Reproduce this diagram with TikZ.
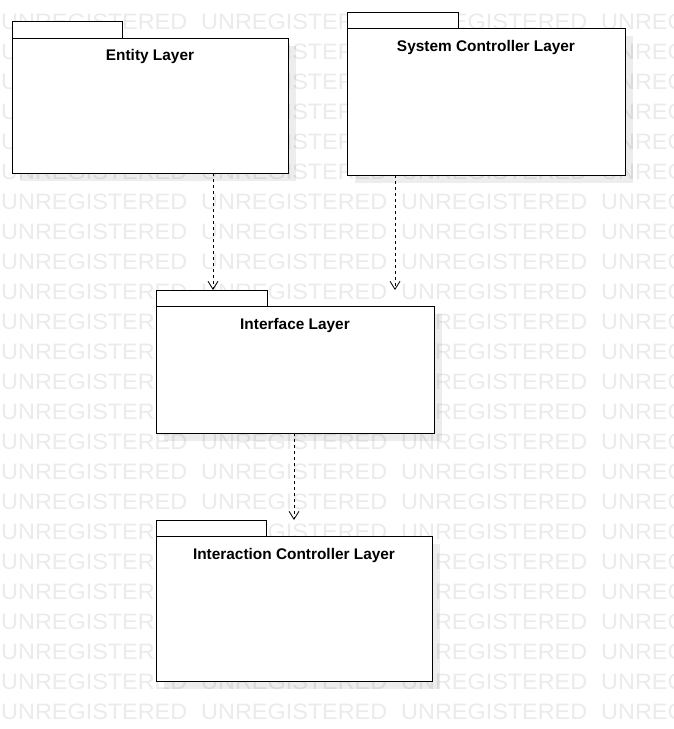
\documentclass[tikz,border=0pt]{standalone}
\usepackage{fontspec}
\setmainfont{Liberation Sans}
\usetikzlibrary{arrows.meta,calc}
\definecolor{wm}{HTML}{EBEBEB}
\tikzset{
  x=1pt,y=-1pt,
  pkgbody/.style={draw=black,line width=0.9pt,fill=white,inner sep=0pt,outer sep=0pt,
    preaction={fill=black,fill opacity=0.07,transform canvas={shift={(8pt,-8pt)}}}},
  pkgtab/.style={draw=black,line width=0.9pt,fill=white,inner sep=0pt,outer sep=0pt,anchor=south west},
  pkgtitle/.style={font=\bfseries\fontsize{15.4}{18}\selectfont,inner sep=0pt,anchor=base},
  dep/.style={draw=black,line width=0.8pt,dash pattern=on 3pt off 3pt,
    -{Straight Barb[length=8pt,width=10pt,line width=0.8pt]}},
  wmtext/.style={text=wm,font=\fontsize{22.3}{24}\selectfont,inner sep=0pt,anchor=base west,xscale=1.05}
}
\begin{document}
\begin{tikzpicture}
\useasboundingbox (0,0) rectangle (673,729);
\fill[white] (0,0) rectangle (673,729);
% watermark
\foreach \r in {0,...,23}{
  \foreach \c in {0,200,400,600}{
    \node[wmtext] at (\c+1,29+30*\r) {UNREGISTERED};
  }
}
% Entity Layer
\node[pkgbody,minimum width=276pt,minimum height=135pt] (ent) at (150,105.5) {};
\node[pkgtab,minimum width=110pt,minimum height=17pt] (entTab) at (ent.north west) {};
\node[pkgtitle] (entT) at ($(ent.north)+(0,22)$) {Entity Layer};
% System Controller Layer
\node[pkgbody,minimum width=278pt,minimum height=147pt] (sys) at (486,101.5) {};
\node[pkgtab,minimum width=111pt,minimum height=16pt] (sysTab) at (sys.north west) {};
\node[pkgtitle] (sysT) at ($(sys.north)+(0,23)$) {System Controller Layer};
% Interface Layer
\node[pkgbody,minimum width=278pt,minimum height=127pt] (ifc) at (295,369.5) {};
\node[pkgtab,minimum width=111pt,minimum height=16pt] (ifcTab) at (ifc.north west) {};
\node[pkgtitle] (ifcT) at ($(ifc.north)+(0,23)$) {Interface Layer};
% Interaction Controller Layer
\node[pkgbody,minimum width=276pt,minimum height=145pt] (int) at (294,608.5) {};
\node[pkgtab,minimum width=110pt,minimum height=16pt] (intTab) at (int.north west) {};
\node[pkgtitle] (intT) at ($(int.north)+(0,23)$) {Interaction Controller Layer};
% connectors
\coordinate (xa) at (213,0);
\coordinate (xb) at (395,0);
\coordinate (xc) at (294,0);
\draw[dep] (ent.south -| xa) -- (ifcTab.north -| xa);
\draw[dep] (sys.south -| xb) -- (ifcTab.north -| xb);
\draw[dep] (ifc.south -| xc) -- (intTab.north -| xc);
\end{tikzpicture}
\end{document}
